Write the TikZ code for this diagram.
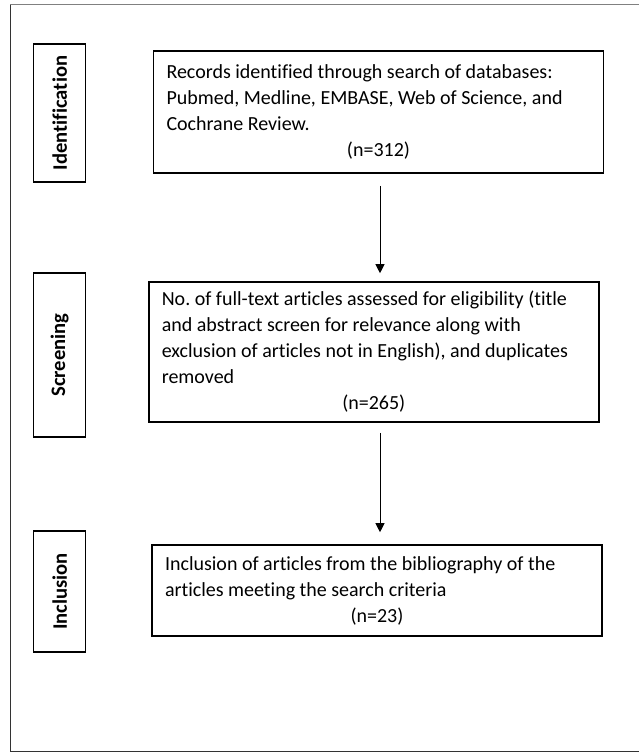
\documentclass[tikz,border=0pt]{standalone}
\usepackage{fontspec}
\setmainfont{Carlito}[Ligatures=NoCommon]
\usetikzlibrary{arrows.meta}
\frenchspacing
\tikzset{
    stagebox/.style={draw, line width=1.6pt, rotate=90, inner sep=0pt, minimum height=52pt, font=\bfseries\fontsize{20.6}{24}\selectfont},
    textbox/.style={draw, line width=1.6pt, inner xsep=13pt, inner ysep=0pt, text width=424pt, align=flush left, font=\fontsize{20}{26}\selectfont},
    flow/.style={-{Triangle[width=9pt,length=9pt]}, line width=0.8pt}
}
\begin{document}
\begin{tikzpicture}[x=1pt,y=-1pt]
    \useasboundingbox (0,0) rectangle (639,753);
    % Draw frame
    \draw [gray, line width=1pt] (10,4.5) -- (645,4.5);
    \draw [black!80, line width=1pt] (10,4.5) -- (10,751.5) -- (645,751.5);
    % Draw stage labels
    \node [stagebox, minimum width=138pt] (ident) at (59.6,113) {Identification};
    \node [stagebox, minimum width=164pt] (screen) at (59.6,355) {Screening};
    \node [stagebox, minimum width=121pt] (incl) at (59.6,591.5) {Inclusion};
    % Draw boxes
    \node [textbox, minimum height=122pt] (records) at (378.5,112) {Records identified through search of databases:\\
        Pubmed, Medline, EMBASE, Web of Science, and\\
        Cochrane Review.\\
        \hspace*{\fill}(n=312)\hspace*{\fill}\null};
    \node [textbox, minimum height=140pt] (fulltext) at (373.8,352) {No. of full-text articles assessed for eligibility (title\\
        and abstract screen for relevance along with\\
        exclusion of articles not in English), and duplicates\\
        removed\\
        \hspace*{\fill}(n=265)\hspace*{\fill}\null};
    \node [textbox, minimum height=91pt] (included) at (377,590.5) {Inclusion of articles from the bibliography of the\\
        articles meeting the search criteria\\
        \hspace*{\fill}(n=23)\hspace*{\fill}\null};
    % Draw arrows
    \coordinate (ax) at (380,0);
    \draw [flow, shorten <=12pt, shorten >=8pt] (records.south -| ax) -- (fulltext.north -| ax);
    \draw [flow, shorten <=10pt, shorten >=12pt] (fulltext.south -| ax) -- (included.north -| ax);
\end{tikzpicture}
\end{document}
